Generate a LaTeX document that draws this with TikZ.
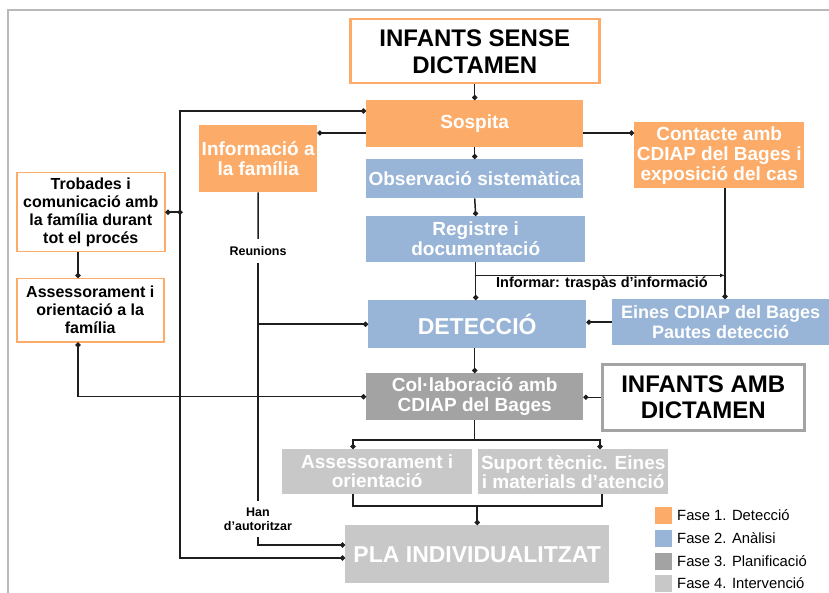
\documentclass[tikz,border=0pt]{standalone}
\usepackage{fontspec}
\setmainfont{Liberation Sans}
\usetikzlibrary{arrows.meta,calc}

\definecolor{fase1}{RGB}{252,172,104}
\definecolor{fase2}{RGB}{152,180,214}
\definecolor{fase3}{RGB}{163,163,163}
\definecolor{fase4}{RGB}{200,200,200}
\definecolor{linec}{RGB}{30,30,30}
\definecolor{framec}{RGB}{185,185,185}

\begin{document}
\begin{tikzpicture}[x=1pt,y=-1pt,
  conn/.style={draw=linec, line width=1.5pt},
  dotend/.style={conn, -{Circle[length=5pt]}},
  dotboth/.style={conn, {Circle[length=5pt]}-{Circle[length=5pt]}},
  box/.style={anchor=north west, inner sep=0pt, align=center, text=white,
    font=\bfseries\fontsize{19}{20}\selectfont},
  title/.style={box, fill=white, text=black, line width=2.5pt,
    font=\bfseries\fontsize{24}{27}\selectfont},
  famkey/.style={box, fill=white, text=black, draw=fase1, line width=1.5pt,
    font=\bfseries\fontsize{16}{18}\selectfont},
  lbl/.style={inner sep=0pt, align=center, fill=white,
    font=\bfseries\fontsize{12.5}{14}\selectfont},
  keysq/.style={anchor=north west, inner sep=0pt, minimum size=17pt},
  keytxt/.style={anchor=west, inner sep=0pt, font=\fontsize{14.8}{16}\selectfont},
]
\useasboundingbox (0,0) rectangle (829,593);

% outer frame
\draw[framec, line width=1.2pt] (8,593) -- (8,10) -- (829,10);

% main column
\node[title, draw=fase1, minimum width=249pt, minimum height=64pt] (isd) at (349,18) {INFANTS SENSE\\DICTAMEN};
\node[box, fill=fase1, minimum width=217pt, minimum height=47pt] (sos) at (366,100) {Sospita};
\node[box, fill=fase2, minimum width=217pt, minimum height=39pt] (obs) at (366,159) {Observació sistemàtica};
\node[box, fill=fase2, minimum width=219pt, minimum height=46pt] (reg) at (366,216) {Registre i\\documentació};
\node[box, fill=fase2, minimum width=218pt, minimum height=48pt, font=\bfseries\fontsize{23}{25}\selectfont] (det) at (368,300) {DETECCIÓ};
\node[box, fill=fase2, minimum width=217pt, minimum height=46pt, font=\bfseries\fontsize{18}{20}\selectfont] (ein) at (612,299) {Eines CDIAP del Bages\\Pautes detecció};
\node[box, fill=fase3, minimum width=217pt, minimum height=47pt] (col) at (366,373) {Col·laboració amb\\CDIAP del Bages};
\node[title, draw=fase3, minimum width=202pt, minimum height=66pt, font=\bfseries\fontsize{24}{26}\selectfont] (iad) at (601,363) {INFANTS AMB\\DICTAMEN};
\node[box, fill=fase4, minimum width=190pt, minimum height=45pt, font=\bfseries\fontsize{19}{19}\selectfont] (ass) at (282,449) {Assessorament i\\orientació};
\node[box, fill=fase4, minimum width=190pt, minimum height=45pt, font=\bfseries\fontsize{19}{19}\selectfont] (sup) at (478,449) {Suport tècnic. Eines\\i materials d’atenció};
\node[box, fill=fase4, minimum width=264pt, minimum height=58pt, font=\bfseries\fontsize{23}{25}\selectfont] (pla) at (345,525) {PLA INDIVIDUALITZAT};

% side boxes
\node[box, fill=fase1, minimum width=118pt, minimum height=67pt] (info) at (199,125) {Informació a\\la família};
\node[box, fill=fase1, minimum width=170pt, minimum height=66pt] (con) at (634,122) {Contacte amb\\CDIAP del Bages i\\exposició del cas};
\node[famkey, minimum width=148pt, minimum height=79pt] (tro) at (16,172) {Trobades i\\comunicació amb\\la família durant\\tot el procés};
\node[famkey, minimum width=147pt, minimum height=63pt] (fam) at (16,278) {Assessorament i\\orientació a la\\família};

% connector labels
\node[lbl, minimum width=60pt, minimum height=24pt] (reun) at (258,251) {Reunions};
\node[lbl, minimum width=72pt, minimum height=36pt] (han) at (258,519) {Han\\d’autoritzar};

% helper coordinates
\coordinate (bus) at (180,0);
\coordinate (fx) at (78,0);
\coordinate (cx) at (725,0);
\coordinate (xl) at (353,0);
\coordinate (xr) at (600,0);
\coordinate (xr2) at (602,0);
\coordinate (ya) at (0,133);
\coordinate (yt) at (0,111);
\coordinate (yb) at (0,558);
\coordinate (yh) at (0,545);
\coordinate (ys) at (0,440);
\coordinate (yj) at (0,506);
\coordinate (inf0) at ($(reg.south)+(0,13)$);

% main column connectors
\draw[dotend] (sos.north |- isd.south) -- (sos.north);
\draw[dotend] (sos.south) -- (obs.north);
\draw[dotend] (obs.south) -- (reg.north);
\draw[dotend] (reg.south) -- (reg.south |- det.north);
\draw[dotend] (col.north |- det.south) -- (col.north);

% information transfer
\draw[conn, -{Latex[length=5pt,width=4pt]}] (inf0) -- (inf0 -| cx);
\node[anchor=north, inner sep=0pt, font=\bfseries\fontsize{14.5}{16}\selectfont] (inflbl) at (602,277) {Informar: traspàs d’informació};
\draw[dotend] (con.south -| cx) -- (ein.north -| cx);

% suspicion branches
\draw[dotend] (sos.west |- ya) -- (info.east |- ya);
\draw[dotend] (sos.east |- ya) -- (con.west |- ya);
\draw[dotboth] (sos.west |- yt) -- (bus |- yt) -- (bus |- yb) -- (pla.west |- yb);

% family follow-up
\draw[dotboth, shorten >=-2.5pt] (tro.east) -- (tro.east -| bus);
\draw[dotend] (tro.south -| fx) -- (fam.north -| fx);
\draw[dotboth] (fam.south -| fx) |- (col.west);

% meetings line
\draw[conn] (info.south) -- (reun.north);
\draw[conn] (reun.south) -- (han.north);
\draw[dotend] (reun.south |- det.west) -- (det.west);
\draw[dotend] (han.south) |- (pla.west |- yh);

% tools and external input
\draw[dotend] (ein.west) -- (det.east |- ein.west);
\draw[dotend] (iad.west) -- (col.east |- iad.west);

% planning split and join
\draw[conn] (col.south) -- (col.south |- ys);
\draw[dotend] (col.south |- ys) -| (ass.north -| xl);
\draw[dotend] (col.south |- ys) -| (sup.north -| xr);
\draw[conn] (ass.south -| xl) -- (xl |- yj) -- (xr2 |- yj) -- (sup.south -| xr2);
\draw[dotend] (pla.north |- yj) -- (pla.north);

% legend
\node[keysq, fill=fase1] (k1) at (655,507) {};
\node[keysq, fill=fase2] (k2) at (655,530) {};
\node[keysq, fill=fase3] (k3) at (655,553) {};
\node[keysq, fill=fase4] (k4) at (655,575) {};
\node[keytxt] (t1) at (677,515.5) {Fase 1. Detecció};
\node[keytxt] (t2) at (677,538.5) {Fase 2. Anàlisi};
\node[keytxt] (t3) at (677,561.5) {Fase 3. Planificació};
\node[keytxt] (t4) at (677,583.5) {Fase 4. Intervenció};
\end{tikzpicture}
\end{document}
